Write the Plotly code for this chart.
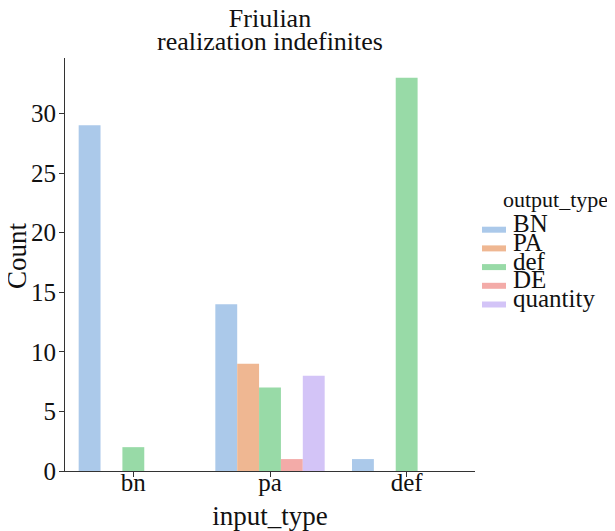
import plotly.graph_objects as go

categories = ["bn", "pa", "def"]
hue_names = ["BN", "PA", "def", "DE", "quantity"]
BN = [29, 14, 1]
PA = [None, 9, None]
DEF = [2, 7, 33]
DE = [None, 1, None]
QUANTITY = [None, 8, None]
series = [BN, PA, DEF, DE, QUANTITY]
colors = ["#abc9ea", "#efb792", "#98daa7", "#f3aba8", "#d3c4f7"]
y_ticks = [0, 5, 10, 15, 20, 25, 30]

FONT = "Liberation Serif"
INK = "#111111"
OFF = 8                      # page body margin offset
W, H = 615 - OFF, 531 - OFF
L, T = 65 - OFF, 58 - OFF
PLOT_R, PLOT_B = 475 - OFF, 471 - OFF
R, B = W - PLOT_R, H - PLOT_B
PW, PH = W - L - R, H - T - B


def px(x):
    """page x -> paper"""
    return (x - OFF - L) / PW


def py(y):
    """page y -> paper"""
    return (H - B - (y - OFF)) / PH


fig = go.Figure()
for name, vals, col in zip(hue_names, series, colors):
    fig.add_trace(go.Bar(x=categories, y=vals, name=name, marker_color=col,
                         marker_line_width=0, showlegend=False))

fig.update_layout(
    width=W, height=H,
    margin=dict(l=L, r=R, t=T, b=B, autoexpand=False),
    plot_bgcolor="white", paper_bgcolor="white",
    barmode="group", bargap=0.2, bargroupgap=0,
    font=dict(family=FONT, color=INK),
    title=dict(text="Friulian", font=dict(size=26, family=FONT, color=INK),
               x=0.5, xref="paper", xanchor="center",
               y=1 - (18 - OFF) / H, yref="container", yanchor="middle"),
)
fig.update_xaxes(
    range=[-0.5, 2.5], showline=True, linecolor="#333333", linewidth=1.2,
    ticks="outside", ticklen=5, tickwidth=1.2, tickcolor="#333333",
    ticklabelstandoff=-16,
    tickfont=dict(size=25, family=FONT, color=INK),
    title=dict(text="input_type", font=dict(size=27, family=FONT, color=INK), standoff=16),
    showgrid=False, zeroline=False,
)
fig.update_yaxes(
    range=[0, 34.65], tickvals=y_ticks, showline=True, linecolor="#333333", linewidth=1.2,
    ticks="outside", ticklen=5, tickwidth=1.2, tickcolor="#333333",
    ticklabelstandoff=-2,
    tickfont=dict(size=25, family=FONT, color=INK),
    showgrid=False, zeroline=False,
)

# y-axis label (annotation so it can sit at the very left edge like the reference)
fig.add_annotation(text="Count", xref="paper", yref="paper",
                   x=px(17), y=py(256), xanchor="center", yanchor="middle",
                   textangle=-90, showarrow=False,
                   font=dict(size=27, family=FONT, color=INK))

# second title line
fig.add_annotation(text="realization indefinites", xref="paper", yref="paper",
                   x=0.5, y=py(41), xanchor="center", yanchor="middle",
                   showarrow=False, font=dict(size=26, family=FONT, color=INK))

# legend drawn as annotations + swatches
fig.add_annotation(text="output_type", xref="paper", yref="paper",
                   x=px(501), y=py(199), xanchor="left", yanchor="middle",
                   showarrow=False, font=dict(size=22, family=FONT, color=INK))
for i, (name, col) in enumerate(zip(hue_names, colors)):
    base = 231.7 + i * 18.7
    fig.add_annotation(text=name, xref="paper", yref="paper",
                       x=px(511), y=py(base - 8), xanchor="left", yanchor="middle",
                       showarrow=False, font=dict(size=25, family=FONT, color=INK))
    fig.add_shape(type="rect", xref="paper", yref="paper",
                  x0=px(482), x1=px(506), y0=py(base + 1), y1=py(base - 5),
                  fillcolor=col, line=dict(width=0))

fig.write_html("out.html")
